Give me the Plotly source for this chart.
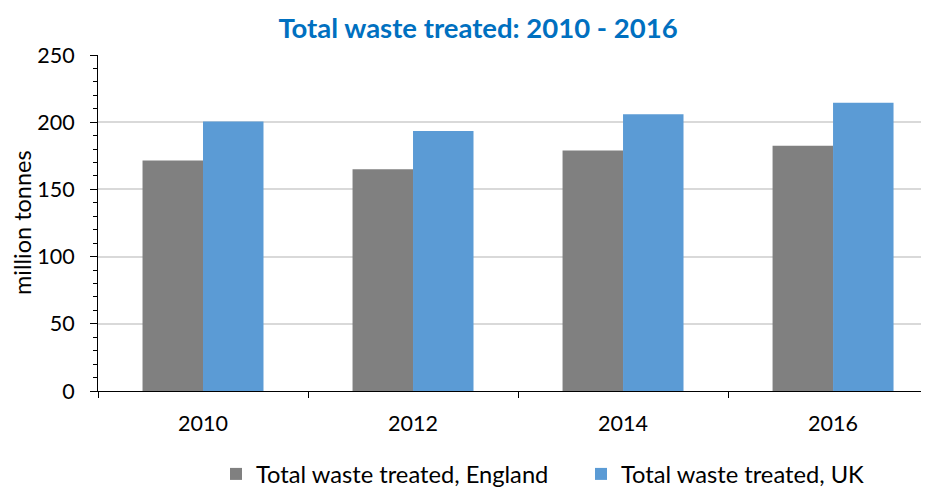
import plotly.graph_objects as go

years = ["2010", "2012", "2014", "2016"]
england = [171.5, 165, 179, 182.5]
uk = [200.5, 193.5, 206, 214.5]
y_ticks = [0, 50, 100, 150, 200, 250]

FONT = "Lato"

fig = go.Figure()
fig.add_trace(go.Bar(x=years, y=england, name="Total waste treated, England",
                     marker=dict(color="#808080", line=dict(width=0)), legend="legend",
                     showlegend=True))
fig.add_trace(go.Bar(x=years, y=uk, name="Total waste treated, UK",
                     marker=dict(color="#5B9BD5", line=dict(width=0)), legend="legend2",
                     showlegend=True))

leg_common = dict(orientation="h", xref="container", yref="container", xanchor="left",
                  yanchor="middle", y=1 - 466 / 489, font=dict(size=23.7, family=FONT),
                  bgcolor="rgba(0,0,0,0)", visible=True)

fig.update_layout(
    width=929, height=489,
    showlegend=True,
    margin=dict(l=90, r=0, t=47, b=106),
    paper_bgcolor="white", plot_bgcolor="white",
    barmode="group", bargap=0.424, bargroupgap=0,
    font=dict(family=FONT, color="black"),
    title=dict(text="<b>Total waste treated: 2010 - 2016</b>",
               font=dict(family=FONT, size=27.5, color="#0070C0"),
               x=470 / 929, xanchor="center", y=1 - 20 / 489, yanchor="middle"),
    legend=dict(x=208 / 929, **leg_common),
    legend2=dict(x=573 / 929, **leg_common),
    xaxis=dict(type="category", range=[-0.5, 3.495], showline=True, linecolor="black",
               linewidth=1, ticks="outside", tickson="boundaries", ticklen=6,
               tickcolor="black", tickfont=dict(size=21.5), showgrid=False,
               automargin=False, ticklabelstandoff=13),
    yaxis=dict(range=[0, 250], tickvals=y_ticks, showline=True, linecolor="black",
               linewidth=1, ticks="outside", ticklen=7, tickcolor="black",
               tickfont=dict(size=21.5), gridcolor="#D9D9D9", gridwidth=1.5,
               zeroline=False, automargin=False, ticklabelstandoff=11,
               minor=dict(dtick=10, ticks="outside", ticklen=4, tickcolor="black", showgrid=False)),
    annotations=[dict(text="million tonnes", textangle=-90, xref="paper", yref="paper",
                      x=(14 - 90) / 839, y=0.5, xanchor="center", yanchor="middle",
                      showarrow=False, font=dict(size=23.5, family=FONT, color="black"))],
)

fig.write_html("out.html")
